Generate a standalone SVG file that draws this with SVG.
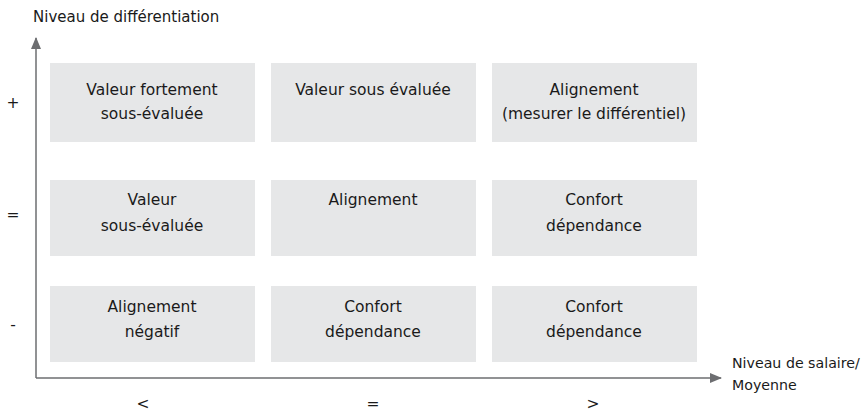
<svg xmlns="http://www.w3.org/2000/svg" width="865" height="412" viewBox="0 0 865 412">
<defs>
<style>
.box{fill:#e6e7e8}
.t{font-family:"DejaVu Sans","Liberation Sans",sans-serif;font-size:15.5px;fill:#1a1a1a;text-anchor:middle}
.l{font-family:"DejaVu Sans","Liberation Sans",sans-serif;font-size:15px;fill:#1a1a1a}
.s{font-size:14.2px}
.ax{stroke:#6d6e71;stroke-width:1.5;fill:none}
</style>
<marker id="ah" viewBox="0 0 12 10" refX="11" refY="5" markerWidth="12" markerHeight="10" markerUnits="userSpaceOnUse" orient="auto"><path d="M0,0 L12,5 L0,10 Z" fill="#6d6e71"/></marker>
</defs>
<g id="connectors">
<path class="ax" d="M36,378 L36,38" marker-end="url(#ah)"/>
<path class="ax" d="M36,378 L721,378" marker-end="url(#ah)"/>
</g>
<g id="n11"><rect class="box" x="50" y="63" width="205" height="79"/><text class="t" x="152" y="95">Valeur fortement</text><text class="t" x="152" y="119">sous-évaluée</text></g>
<g id="n12"><rect class="box" x="271" y="63" width="205" height="79"/><text class="t" x="373" y="95">Valeur sous évaluée</text></g>
<g id="n13"><rect class="box" x="492" y="63" width="205" height="79"/><text class="t" x="594" y="95">Alignement</text><text class="t" x="594" y="119">(mesurer le différentiel)</text></g>
<g id="n21"><rect class="box" x="50" y="180" width="205" height="76"/><text class="t" x="152" y="205">Valeur</text><text class="t" x="152" y="231">sous-évaluée</text></g>
<g id="n22"><rect class="box" x="271" y="180" width="205" height="76"/><text class="t" x="373" y="205">Alignement</text></g>
<g id="n23"><rect class="box" x="492" y="180" width="205" height="76"/><text class="t" x="594" y="205">Confort</text><text class="t" x="594" y="231">dépendance</text></g>
<g id="n31"><rect class="box" x="50" y="286" width="205" height="76"/><text class="t" x="152" y="312">Alignement</text><text class="t" x="152" y="337">négatif</text></g>
<g id="n32"><rect class="box" x="271" y="286" width="205" height="76"/><text class="t" x="373" y="312">Confort</text><text class="t" x="373" y="337">dépendance</text></g>
<g id="n33"><rect class="box" x="492" y="286" width="205" height="76"/><text class="t" x="594" y="312">Confort</text><text class="t" x="594" y="337">dépendance</text></g>
<g id="labels">
<text class="l" x="33" y="22">Niveau de différentiation</text>
<text class="l s" x="732" y="368">Niveau de salaire/</text>
<text class="l s" x="732" y="390">Moyenne</text>
<text class="t" x="13" y="108">+</text>
<text class="t" x="13" y="220">=</text>
<text class="t" x="13" y="330">-</text>
<text class="t" x="143" y="409">&lt;</text>
<text class="t" x="373" y="409">=</text>
<text class="t" x="593" y="409">&gt;</text>
</g>
</svg>
